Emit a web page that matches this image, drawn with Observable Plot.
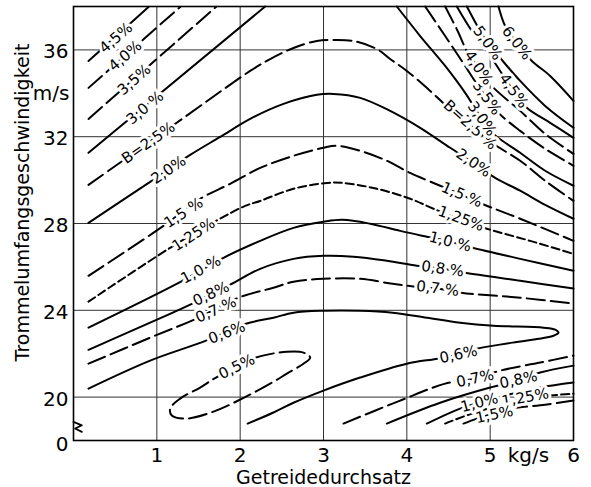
<!DOCTYPE html>
<html><head><meta charset="utf-8">
<script src="https://cdn.jsdelivr.net/npm/d3@7"></script>
<script src="https://cdn.jsdelivr.net/npm/@observablehq/plot@0.6"></script>
<style>body{margin:0;background:#fff} svg{display:block}</style>
</head><body><div id="chart"></div>
<script>
// Axes
const xTicks = [1, 2, 3, 4, 5, 6];
const yTicks = [20, 24, 28, 32, 36];
const yBreakTick = 18;           // drawn as "0" below the axis break
const yBreakLabel = "0";
const xUnit = "kg/s", yUnit = "m/s";
const xTitle = "Getreidedurchsatz";
const yTitle = "Trommelumfangsgeschwindigkeit";

// Contours (x = kg/s, y = m/s), B = Bruchkornanteil %
const c45L = [[0.18,35.49],[0.54,36.73],[0.90,37.98]];
const c40L = [[0.18,34.25],[1.28,37.98]];
const c35L = [[0.18,32.82],[1.71,37.98]];
const c30L = [[0.18,31.26],[2.30,38.0]];
const c25 = [[0.18,29.78],[1.20,32.54],[2.12,35.03],[2.36,35.58],[2.64,36.09],[2.92,36.41],[3.12,36.46],[3.36,36.41],[3.64,36.04],[3.80,35.58],[4.00,35.03],[4.28,34.11],[4.50,33.33],[4.76,32.54],[5.02,31.72],[5.36,30.89],[5.66,29.97],[6.00,29.04]];
const c20 = [[0.18,28.03],[0.92,29.92],[1.40,31.16],[1.76,31.99],[2.12,32.82],[2.52,33.51],[2.92,33.93],[3.12,33.97],[3.44,33.79],[3.80,33.19],[4.16,32.41],[4.52,31.49],[4.80,30.79],[5.06,30.10],[5.36,29.51],[5.66,28.86],[6.00,28.22]];
const c15 = [[0.18,25.59],[1.08,27.89],[1.52,29.14],[1.88,29.83],[2.24,30.56],[2.64,31.12],[3.00,31.49],[3.16,31.58],[3.44,31.35],[3.76,30.89],[4.04,30.33],[4.40,29.74],[4.66,29.32],[4.90,28.91],[5.36,28.22],[6.00,27.20]];
const c125 = [[0.18,24.40],[1.16,26.88],[1.71,28.12],[2.06,28.81],[2.24,29.04],[2.64,29.60],[3.04,29.87],[3.23,29.87],[3.64,29.60],[4.04,29.14],[4.32,28.68],[4.65,28.17],[4.96,27.76],[5.48,27.20],[6.00,26.60]];
const c10 = [[0.18,23.20],[1.29,25.32],[1.80,26.42],[2.24,27.20],[2.64,27.80],[3.00,28.08],[3.23,28.17],[3.56,27.99],[3.92,27.66],[4.24,27.39],[4.52,27.16],[4.74,26.93],[5.36,26.37],[6.00,25.82]];
const c08 = [[0.18,22.18],[0.92,23.43],[1.42,24.30],[1.88,25.18],[2.24,25.91],[2.64,26.37],[3.00,26.51],[3.36,26.47],[3.76,26.28],[4.12,26.05],[4.43,25.91],[4.70,25.73],[5.36,25.36],[6.00,25.00]];
const c07 = [[0.18,21.54],[0.92,22.74],[1.47,23.61],[1.98,24.58],[2.40,25.04],[2.64,25.32],[3.00,25.45],[3.44,25.45],[3.83,25.22],[4.10,25.09],[4.37,25.00],[4.65,24.81],[5.36,24.58],[6.00,24.31]];
const c06 = [[0.18,20.39],[0.92,21.68],[1.59,22.60],[2.07,23.38],[2.40,23.66],[2.64,23.89],[3.00,23.98],[3.44,23.98],[3.83,23.89],[4.24,23.66],[4.64,23.43],[5.04,23.29],[5.64,23.20],[5.78,23.11],[5.82,22.97],[5.76,22.83],[5.27,22.51],[4.84,22.23],[4.62,21.96],[4.37,21.77],[4.00,21.54],[3.44,20.90],[3.00,20.30],[2.64,19.74],[2.40,19.29],[2.09,18.78]];
const c05 = [[2.19,21.82],[2.56,22.09],[2.76,22.05],[2.84,21.82],[2.76,21.54],[2.56,21.08],[2.40,20.71],[2.07,20.02],[1.68,19.33],[1.35,19.01],[1.18,19.15],[1.16,19.47],[1.28,19.93],[1.52,20.44],[1.71,20.90],[1.98,21.40]];
const c07b = [[3.24,18.78],[3.92,19.84],[4.46,20.62],[4.82,20.85],[5.12,21.22],[5.60,21.59],[6.00,21.91]];
const c08b = [[3.76,18.78],[4.40,19.74],[5.00,20.44],[5.34,20.76],[5.60,21.13],[6.00,21.45]];
const c10b = [[4.24,18.78],[4.64,19.47],[4.86,19.74],[5.12,20.02],[5.60,20.44],[6.00,20.67]];
const c125b = [[4.46,18.78],[4.78,19.24],[5.42,19.93],[5.72,20.07],[6.00,20.16]];
const c15b = [[4.68,18.78],[4.84,19.01],[5.04,19.24],[5.26,19.47],[5.66,19.65],[6.00,19.84]];
const c30R = [[3.88,38.0],[4.16,36.64],[4.46,35.26],[4.70,34.02],[4.90,32.82],[5.04,32.13],[5.36,31.26],[5.66,30.43],[6.00,29.74]];
const c35R = [[4.22,38.0],[4.46,36.64],[4.66,35.49],[4.84,34.43],[4.96,33.79],[5.10,33.10],[5.36,32.27],[5.66,31.44],[6.00,30.66]];
const c40R = [[4.46,38.0],[4.61,36.87],[4.72,35.95],[4.86,35.17],[5.02,34.34],[5.36,33.19],[5.66,32.13],[6.00,31.21]];
const c45R = [[4.60,38.0],[4.78,36.87],[5.00,35.72],[5.12,35.03],[5.28,34.11],[5.44,33.33],[5.72,32.64],[6.00,31.95]];
const c50R = [[4.72,38.0],[4.88,36.87],[4.97,36.32],[5.12,35.63],[5.36,34.57],[5.66,33.42],[6.00,32.41]];
const c60R = [[5.10,38.0],[5.18,37.10],[5.32,36.32],[5.50,35.49],[5.72,34.80],[6.00,33.65]];

const contours = [
  {id:"4.5L", dash:"solid", pts:c45L}, {id:"4.0L", dash:"long", pts:c40L},
  {id:"3.5L", dash:"long", pts:c35L}, {id:"3.0L", dash:"solid", pts:c30L},
  {id:"2.5", dash:"long", pts:c25}, {id:"2.0", dash:"solid", pts:c20},
  {id:"1.5", dash:"long", pts:c15}, {id:"1.25", dash:"short", pts:c125},
  {id:"1.0", dash:"solid", pts:c10}, {id:"0.8", dash:"solid", pts:c08},
  {id:"0.7", dash:"long", pts:c07}, {id:"0.6", dash:"solid", pts:c06},
  {id:"0.7b", dash:"long", pts:c07b}, {id:"0.8b", dash:"solid", pts:c08b},
  {id:"1.0b", dash:"solid", pts:c10b}, {id:"1.25b", dash:"short", pts:c125b},
  {id:"1.5b", dash:"long", pts:c15b},
  {id:"3.0R", dash:"solid", pts:c30R}, {id:"3.5R", dash:"long", pts:c35R},
  {id:"4.0R", dash:"long", pts:c40R}, {id:"4.5R", dash:"solid", pts:c45R},
  {id:"5.0R", dash:"solid", pts:c50R}, {id:"6.0R", dash:"solid", pts:c60R}
];
const rows = contours.flatMap(c => c.pts.map(([x, y]) => ({id: c.id, dash: c.dash, x, y})));
const loop05 = c05.map(([x, y]) => ({x, y}));

// Contour labels: text, x, y, rotation
const labelText = ["4,5%","4,0%","3,5%","3,0 %","B=2,5%","2,0%","1,5 %","1,25%","1,0 %","0,8%","0,7 %","0,6%","0,5%",
  "0,7 %","0,8 %","1,0 %","1,25%","1,5 %","2,0%","B=2,5 %","3,0%","3,5%","4,0%","4,5%","5,0%","6,0%",
  "0,6%","0,7%","0,8%","1,0%","1,25%","1,5%"];
const labelX = [0.51,0.62,0.73,0.86,0.90,1.14,1.32,1.44,1.53,1.65,1.71,1.84,1.96,
  4.37,4.43,4.52,4.65,4.66,4.80,4.76,4.90,4.96,4.86,5.28,4.97,5.32,
  4.62,4.82,5.34,4.87,5.42,5.05];
const labelY = [36.55,35.72,34.62,33.33,31.72,30.47,28.49,27.48,25.87,24.76,24.02,22.97,21.40,
  25.00,25.91,27.16,28.22,29.32,30.79,32.54,32.82,33.79,35.17,34.11,36.32,36.32,
  21.96,20.85,20.80,19.74,19.98,19.19];
const labelRot = [-41,-41,-41,-40,-35,-34,-33,-33,-28,-25,-24,-21,-26,
  7,8,14,20,23,34,42,55,55,55,54,54,52,
  -12,-12,-12,-15,-10,-12];
const labels = labelText.map((t, i) => ({t, x: labelX[i], y: labelY[i], r: labelRot[i]}));

// axis-break squiggle on the y axis
const breakMark = [[0.0,18.86],[0.10,18.70],[0.02,18.55],[0.10,18.40]];

const lineOpts = {x: "x", y: "y", z: "id", stroke: "black", strokeWidth: 2, curve: "catmull-rom"};
const chart = Plot.plot({
  width: 591, height: 487,
  marginLeft: 73, marginRight: 18, marginTop: 6, marginBottom: 47,
  x: {domain: [0, 6]},
  y: {domain: [18, 38]},
  style: {fontFamily: "DejaVu Sans", background: "white", color: "black"},
  marks: [
    Plot.gridX(xTicks.slice(0, 5), {stroke: "#333", strokeOpacity: 1, strokeWidth: 1}),
    Plot.gridY(yTicks, {stroke: "#333", strokeOpacity: 1, strokeWidth: 1}),
    Plot.line(rows.filter(d => d.dash === "solid"), lineOpts),
    Plot.line(rows.filter(d => d.dash === "long"), {...lineOpts, strokeDasharray: "18,6"}),
    Plot.line(rows.filter(d => d.dash === "short"), {...lineOpts, strokeDasharray: "8,4"}),
    Plot.line(loop05, {x: "x", y: "y", stroke: "black", strokeWidth: 2, curve: "catmull-rom-closed", strokeDasharray: "18,6"}),
    Plot.text(labels, {x: "x", y: "y", text: "t", rotate: "r", fontSize: 15, fill: "black",
      stroke: "white", strokeWidth: 6, paintOrder: "stroke"}),
    Plot.frame({stroke: "black", strokeWidth: 1.6}),
    Plot.line(breakMark, {x: d => d[0], y: d => d[1], stroke: "black", strokeWidth: 1.8}),
    Plot.axisX(xTicks, {tickSize: 0, tickPadding: 7, fontSize: 20, label: null}),
    Plot.axisY(yTicks, {tickSize: 0, tickPadding: 5, fontSize: 20, label: null, dy: 2}),
    Plot.text([yBreakLabel], {x: 0, y: yBreakTick, dx: -5, dy: 4, textAnchor: "end", fontSize: 20}),
    Plot.text([yUnit], {x: 0, y: 34, dx: -4, textAnchor: "end", fontSize: 20}),
    Plot.text([xUnit], {x: 5.46, y: 18, dy: 15, fontSize: 20}),
    Plot.text([xTitle], {frameAnchor: "bottom", dy: 37, lineAnchor: "middle", textAnchor: "middle", fontSize: 19, letterSpacing: "0.5px"}),
    Plot.text([yTitle], {frameAnchor: "left", dx: -51, dy: -21, rotate: -90, textAnchor: "middle", lineAnchor: "middle", fontSize: 19, letterSpacing: "0.7px"})
  ]
});
document.getElementById("chart").appendChild(chart);
</script>
</body></html>
